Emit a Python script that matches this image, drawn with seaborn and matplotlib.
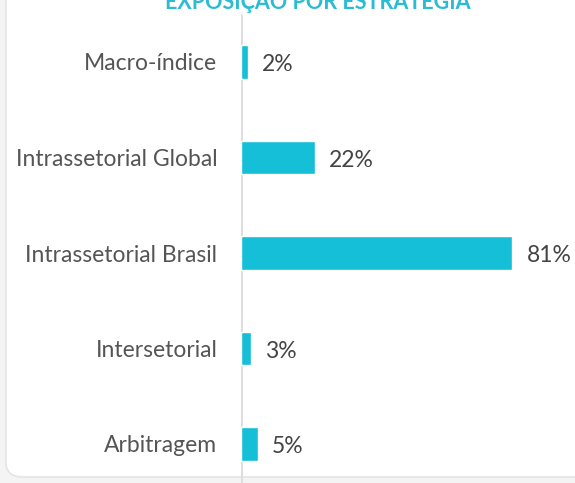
import matplotlib
matplotlib.use("Agg")
import matplotlib.pyplot as plt
import seaborn as sns
import pandas as pd
from matplotlib.patches import FancyBboxPatch

categories = ["Macro-índice", "Intrassetorial Global", "Intrassetorial Brasil", "Intersetorial", "Arbitragem"]
values = [2, 22, 81, 3, 5]
value_labels = ["2%", "22%", "81%", "3%", "5%"]
title = "EXPOSIÇÃO POR ESTRATÉGIA"

df = pd.DataFrame({"cat": categories, "val": values})

sns.set_theme(style="white")
plt.rcParams["font.family"] = ["Lato", "DejaVu Sans"]

W, H = 575, 483
fig = plt.figure(figsize=(W / 100, H / 100), dpi=100)
fig.patch.set_facecolor("#f4f4f4")

# card background
card = FancyBboxPatch((6 / W, 6 / H), 1.2, 1.2,
                      boxstyle="round,pad=0,rounding_size=0.03",
                      transform=fig.transFigure, facecolor="white",
                      edgecolor="#e4e4e4", linewidth=1.2, zorder=-10)
fig.patches.append(card)

ax = fig.add_axes([241 / W, 0, 335 / W, 1])
ax.set_zorder(5)
ax.set_facecolor("none")
sns.barplot(data=df, x="val", y="cat", orient="h", color="#14BFD7",
            width=0.35, saturation=1, ax=ax, zorder=3)

ax.set_xlim(0, 100)
ax.set_ylim(4 + (H - 444) / 95.5, -62 / 95.5)
for s in ax.spines.values():
    s.set_visible(False)
ax.axvline(0, ymin=0, ymax=(H - 15) / H, color="#dcdcdc", lw=2, zorder=2)

ax.set_xticks([])
ax.set_xlabel("")
ax.set_ylabel("")
ax.tick_params(axis="y", length=0, pad=17, labelsize=16.5, labelcolor="#555555")

for i, (v, lab) in enumerate(zip(values, value_labels)):
    ax.text(v + 4.3, i + 0.03, lab, va="center", ha="left", fontsize=16.5, color="#444444")

fig.text(318 / W, 1.0 - 9 / H, title, ha="center", va="baseline", fontsize=15.5,
         fontweight="bold", color="#2bbcd4", zorder=10)

fig.savefig("out.png", dpi=100)
